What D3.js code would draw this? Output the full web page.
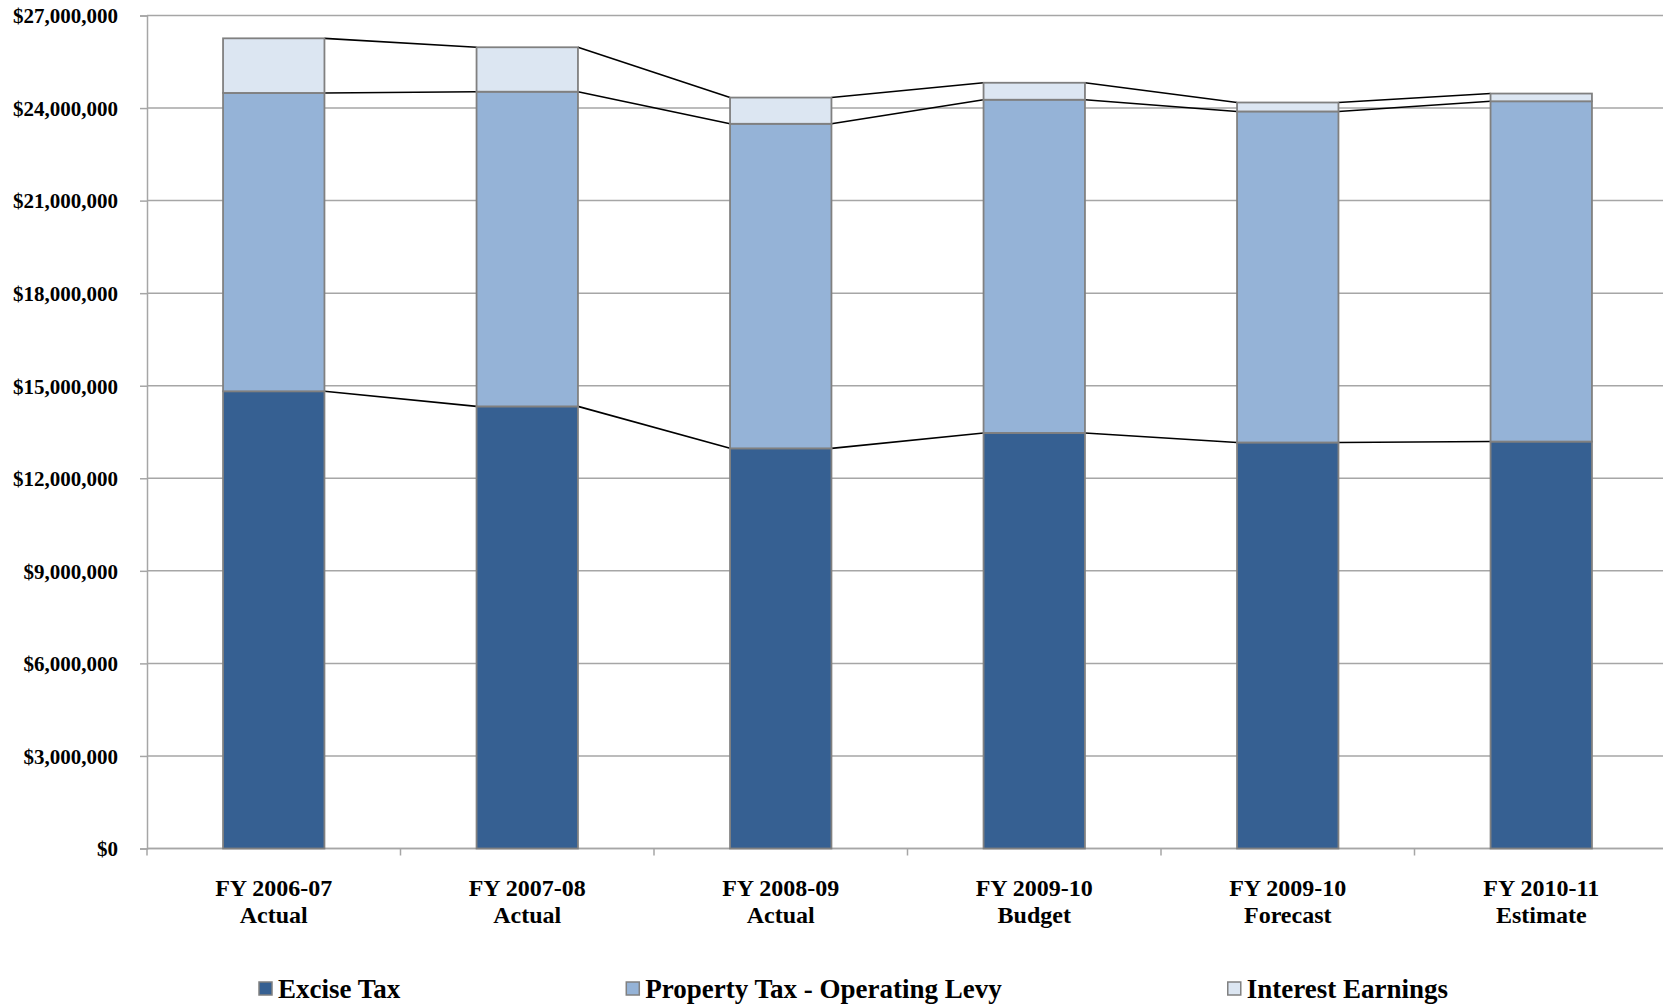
<!DOCTYPE html>
<meta charset="utf-8">
<style>
  body { margin: 0; background: #fff; }
  svg text { font-family: "Liberation Serif", "Times New Roman", serif; font-weight: bold; fill: #000; }
</style>
<script src="https://cdnjs.cloudflare.com/ajax/libs/d3/7.8.5/d3.min.js"></script>
<body>
<svg id="chart"></svg>
<script>
// fiscal years, two-line labels
var years = ["FY 2006-07", "FY 2007-08", "FY 2008-09", "FY 2009-10", "FY 2009-10", "FY 2010-11"];
var kinds = ["Actual", "Actual", "Actual", "Budget", "Forecast", "Estimate"];

// series values (dollars)
var excise   = [14820000, 14330000, 12970000, 13470000, 13160000, 13190000];
var property = [ 9670000, 10200000, 10520000, 10800000, 10730000, 11030000];
var interest = [ 1770000,  1440000,   850000,   550000,   290000,   250000];

var seriesNames = ["Excise Tax", "Property Tax - Operating Levy", "Interest Earnings"];
var seriesColours = ["#366092", "#95b3d7", "#dce6f2"];
var yTicks = d3.range(0, 27000001, 3000000);

var width = 1663, height = 1006;
var m = {top: 15.5, left: 147, right: 1668, bottom: 848.5};

var svg = d3.select("#chart").attr("width", width).attr("height", height);

var rows = years.map(function(d, i) {
  return {i: i, excise: excise[i], property: property[i], interest: interest[i]};
});
var keys = ["excise", "property", "interest"];
var stacked = d3.stack().keys(keys)(rows);

var x = d3.scaleBand().domain(d3.range(years.length)).range([m.left, m.right]).paddingInner(0).paddingOuter(0);
var bw = x.bandwidth() * 0.4;
var bx = function(i) { return x(i) + (x.bandwidth() - bw) / 2; };
var y = d3.scaleLinear().domain([0, 27000000]).range([m.bottom, m.top]);

// gridlines
svg.append("g").selectAll("line").data(yTicks).enter().append("line")
  .attr("x1", m.left).attr("x2", m.right)
  .attr("y1", function(d) { return y(d); }).attr("y2", function(d) { return y(d); })
  .attr("stroke", "#a6a6a6").attr("stroke-width", 1.5);

// y axis
var yAxis = svg.append("g").attr("transform", "translate(" + m.left + ",0)")
  .call(d3.axisLeft(y).tickValues(yTicks).tickFormat(d3.format("$,")).tickSize(7).tickPadding(22));
yAxis.select(".domain").attr("stroke", "#a6a6a6").attr("stroke-width", 1.5);
yAxis.selectAll(".tick line").attr("stroke", "#a6a6a6").attr("stroke-width", 1.5);
yAxis.selectAll(".tick text").attr("font-size", 21).attr("font-family", null).attr("dy", "0.35em");

// x axis, ticks between categories
var xb = svg.append("g");
xb.append("line").attr("x1", m.left).attr("x2", m.right).attr("y1", m.bottom).attr("y2", m.bottom)
  .attr("stroke", "#a6a6a6").attr("stroke-width", 1.5);
xb.selectAll(".xt").data(d3.range(years.length + 1)).enter().append("line")
  .attr("x1", function(d) { return m.left + d * x.bandwidth(); })
  .attr("x2", function(d) { return m.left + d * x.bandwidth(); })
  .attr("y1", m.bottom).attr("y2", m.bottom + 7)
  .attr("stroke", "#a6a6a6").attr("stroke-width", 1.5);

var lab = svg.append("g").selectAll("text").data(rows).enter().append("text")
  .attr("text-anchor", "middle").attr("font-size", 24);
lab.append("tspan").attr("x", function(d) { return x(d.i) + x.bandwidth() / 2; }).attr("y", 896)
  .text(function(d) { return years[d.i]; });
lab.append("tspan").attr("x", function(d) { return x(d.i) + x.bandwidth() / 2; }).attr("y", 923)
  .text(function(d) { return kinds[d.i]; });

// series lines joining stack tops
stacked.forEach(function(s) {
  svg.append("g").selectAll("line").data(d3.range(s.length - 1)).enter().append("line")
    .attr("x1", function(i) { return bx(i) + bw; })
    .attr("y1", function(i) { return y(s[i][1]); })
    .attr("x2", function(i) { return bx(i + 1); })
    .attr("y2", function(i) { return y(s[i + 1][1]); })
    .attr("stroke", "#000").attr("stroke-width", 1.6);
});

// bars
svg.append("g").selectAll("g").data(stacked).enter().append("g")
  .attr("fill", function(d, k) { return seriesColours[k]; })
  .selectAll("rect").data(function(d) { return d; }).enter().append("rect")
  .attr("x", function(d, i) { return bx(i); })
  .attr("width", bw)
  .attr("y", function(d) { return y(d[1]); })
  .attr("height", function(d) { return y(d[0]) - y(d[1]); })
  .attr("stroke", "#808080").attr("stroke-width", 1.8);

// legend, equal gaps between entries
var leg = svg.append("g");
var lx = 259, gap = 226;
seriesNames.forEach(function(name, k) {
  leg.append("rect").attr("x", lx).attr("y", 982).attr("width", 13).attr("height", 13)
    .attr("fill", seriesColours[k]).attr("stroke", "#808080").attr("stroke-width", 1.5);
  var t = leg.append("text").attr("x", lx + 19).attr("y", 997.5).attr("font-size", 27).text(name);
  lx = lx + 19 + t.node().getComputedTextLength() + gap;
});
</script>
</body>
